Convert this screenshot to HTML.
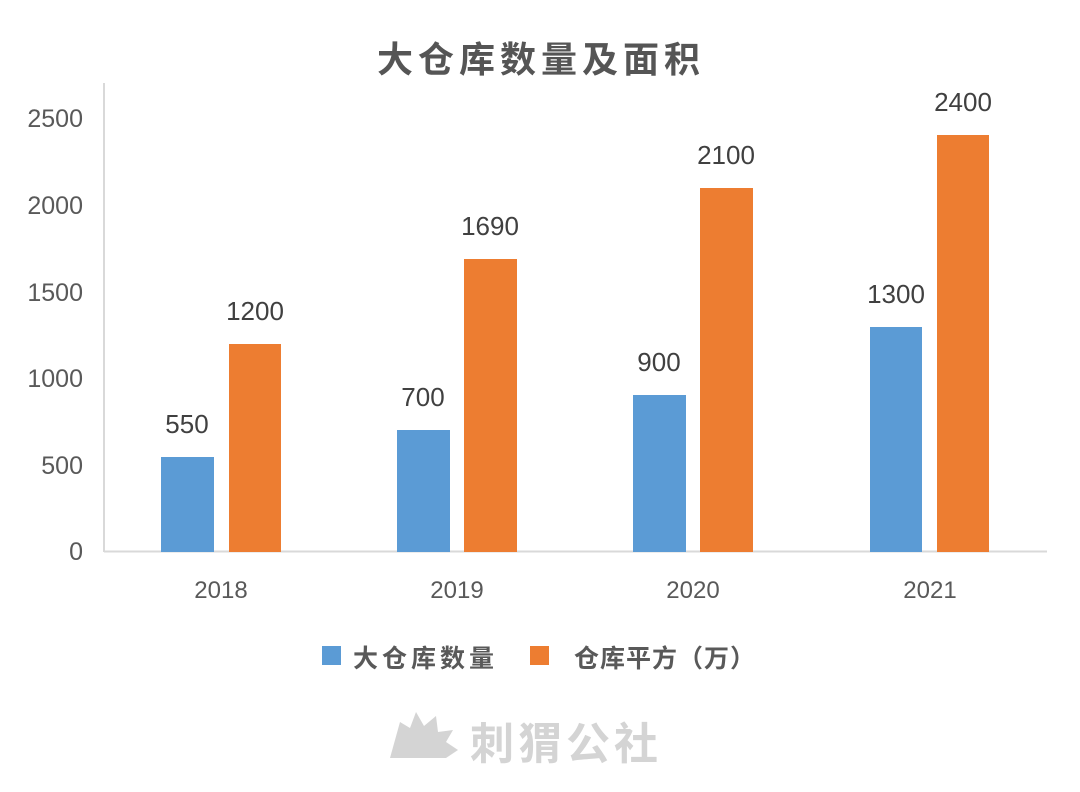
<!DOCTYPE html>
<html><head><meta charset="utf-8"><style>
html,body{margin:0;padding:0;background:#fff;}
svg text{font-family:"Liberation Sans","Noto Sans CJK SC",sans-serif;}
</style></head><body>
<svg width="1080" height="787" viewBox="0 0 1080 787" xmlns="http://www.w3.org/2000/svg">
<rect width="1080" height="787" fill="#fff"/>
<text x="541" y="72" text-anchor="middle" font-size="36" font-weight="bold" fill="#555" letter-spacing="5">大仓库数量及面积</text>
<line x1="104" y1="83" x2="104" y2="552" stroke="#d9d9d9" stroke-width="2"/>
<line x1="104" y1="551.5" x2="1047" y2="551.5" stroke="#d9d9d9" stroke-width="2"/>
<g font-size="25" fill="#595959" text-anchor="end">
<text x="83" y="560">0</text>
<text x="83" y="474">500</text>
<text x="83" y="387">1000</text>
<text x="83" y="301">1500</text>
<text x="83" y="214">2000</text>
<text x="83" y="127">2500</text>
</g>
<g font-size="24" fill="#595959" text-anchor="middle">
<text x="221" y="598">2018</text>
<text x="457" y="598">2019</text>
<text x="693" y="598">2020</text>
<text x="930" y="598">2021</text>
</g>
<g fill="#5b9bd5">
<rect x="161" y="457" width="53" height="95"/>
<rect x="397" y="430" width="53" height="122"/>
<rect x="633" y="395" width="53" height="157"/>
<rect x="870" y="327" width="52" height="225"/>
</g>
<g fill="#ed7d31">
<rect x="229" y="344" width="52" height="208"/>
<rect x="464" y="259" width="53" height="293"/>
<rect x="700" y="188" width="53" height="364"/>
<rect x="937" y="135" width="52" height="417"/>
</g>
<g font-size="26" fill="#404040" text-anchor="middle">
<text x="187" y="433">550</text>
<text x="255" y="320">1200</text>
<text x="423" y="406">700</text>
<text x="490" y="235">1690</text>
<text x="659" y="371">900</text>
<text x="726" y="164">2100</text>
<text x="896" y="303">1300</text>
<text x="963" y="111">2400</text>
</g>
<rect x="322" y="646" width="19" height="19" fill="#5b9bd5"/>
<text x="353" y="667" font-size="25" fill="#595959" font-weight="bold" letter-spacing="4">大仓库数量</text>
<rect x="530" y="646" width="19" height="19" fill="#ed7d31"/>
<text x="574" y="667" font-size="25" fill="#595959" font-weight="bold" letter-spacing="1">仓库平方（万）</text>
<polygon points="390,758 400,722 410,728 416,712 424,726 436,716 438,732 453,730 446,742 458,750 446,758" fill="#d4d4d4"/>
<text x="470" y="759" font-size="44" font-weight="bold" fill="#d4d4d4" letter-spacing="4">刺猬公社</text>
</svg>
</body></html>
